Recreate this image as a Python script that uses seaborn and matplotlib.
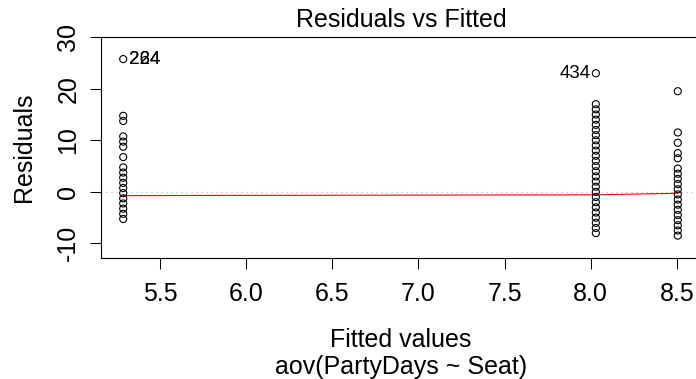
import numpy as np
import pandas as pd
import seaborn as sns
from matplotlib import pyplot as plt

# residuals, one list per fitted group
fit_low = 5.285
res_low = [25.72, 14.72, 13.72, 10.72, 9.72, 8.72, 6.72, 4.72, 3.72, 2.72, 1.72,
           0.72, -0.28, -1.28, -2.28, -3.28, -4.28, -5.28]
fit_mid = 8.03
res_mid = [22.97, 16.97, 15.97, 14.97, 13.97, 12.97, 11.97, 10.97, 9.97, 8.97,
           7.97, 6.97, 5.97, 4.97, 3.97, 2.97, 1.97, 0.97, -0.03, -1.03, -2.03,
           -3.03, -4.03, -5.03, -6.03, -7.03, -8.03]
fit_high = 8.506
res_high = [19.49, 11.49, 9.49, 7.49, 6.49, 4.49, 3.49, 2.49, 1.49, 0.49, -0.51,
            -1.51, -2.51, -3.51, -4.51, -5.51, -6.51, -7.51, -8.51]

# lowess smoother
smooth_x = [5.285, 8.03, 8.506]
smooth_y = [-0.75, -0.6, -0.3]

# labelled extreme points
id_x = [5.285, 5.285, 8.03]
id_y = [25.72, 25.72, 22.97]
id_labels = ["224", "264", "434"]

xticks = [5.5, 6.0, 6.5, 7.0, 7.5, 8.0, 8.5]
yticks = [-10, 0, 10, 20, 30]

plt.rcParams['font.family'] = ['Liberation Sans', 'DejaVu Sans']
plt.rcParams['axes.unicode_minus'] = False

df = pd.DataFrame({
    "fitted": [fit_low] * len(res_low) + [fit_mid] * len(res_mid) + [fit_high] * len(res_high),
    "resid": res_low + res_mid + res_high,
})

fig = plt.figure(figsize=(6.96, 3.79), dpi=100)
ax = fig.add_axes([101 / 696, 1 - 258 / 379, 599 / 696, 221 / 379])

ax.axhline(0, color="#BEBEBE", ls=(0, (1, 3)), lw=0.9, zorder=1)
sns.scatterplot(data=df, x="fitted", y="resid", marker="o", s=26,
                facecolor="none", edgecolor="black", linewidth=0.8, ax=ax, zorder=3)
sns.lineplot(x=smooth_x, y=smooth_y, color="red", lw=0.8, ax=ax, zorder=2)

for x, y, lab in zip(id_x, id_y, id_labels):
    if x < 6.9:
        ax.annotate(lab, (x, y), xytext=(4, 0), textcoords="offset points",
                    ha="left", va="center", fontsize=13.5)
    else:
        ax.annotate(lab, (x, y), xytext=(-4, 0), textcoords="offset points",
                    ha="right", va="center", fontsize=13.5)

ax.set_xlim(5.156, 8.635)
ax.set_ylim(-12.85, 29.92)
ax.set_xticks(xticks)
ax.set_xticklabels([f"{t:.1f}" for t in xticks])
ax.set_yticks(yticks)
ax.set_yticklabels([str(t) for t in yticks], rotation=90, va="center")
ax.tick_params(direction="out", length=7.9, width=0.75, labelsize=18, color="black")
ax.tick_params(axis="x", pad=9.5)
ax.tick_params(axis="y", pad=7)
for sp in ax.spines.values():
    sp.set_linewidth(0.8)
    sp.set_color("black")
ax.set_xlabel("")
ax.set_ylabel("")

fig.text(401 / 696, 1 - 27 / 379, "Residuals vs Fitted", ha="center", va="baseline", fontsize=18)
fig.text(401 / 696, 1 - 347 / 379, "Fitted values", ha="center", va="baseline", fontsize=18)
fig.text(401 / 696, 1 - 374 / 379, "aov(PartyDays ~ Seat)", ha="center", va="baseline", fontsize=18)
fig.text(24 / 696, 1 - 147 / 379, "Residuals", ha="center", va="center", rotation=90, fontsize=18)

fig.savefig("out.png", dpi=100)
